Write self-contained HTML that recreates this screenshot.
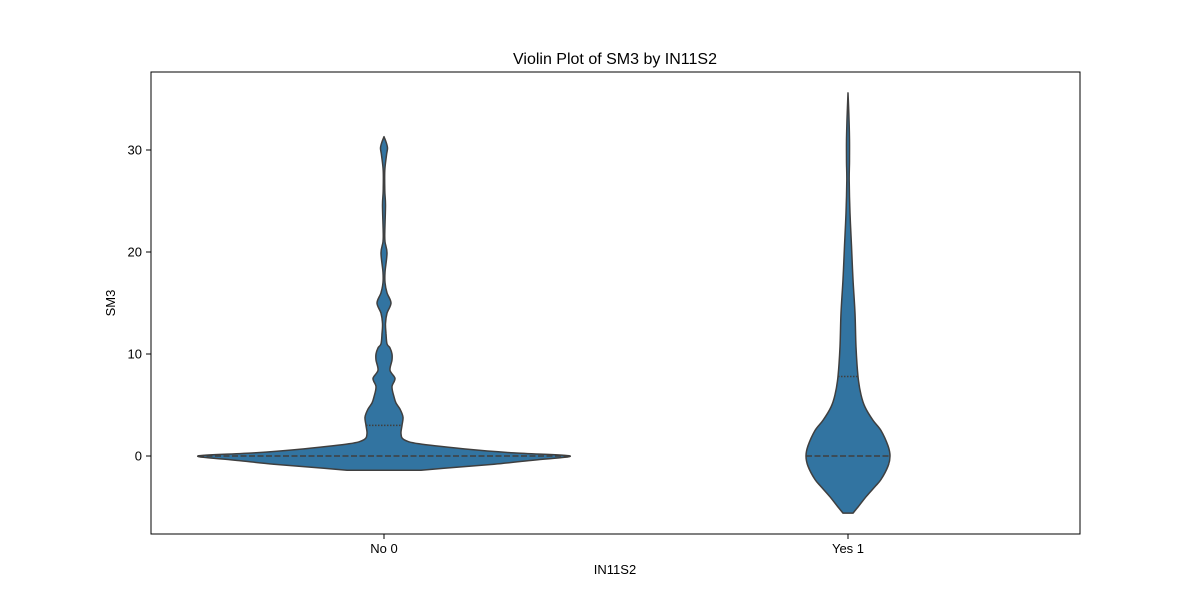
<!DOCTYPE html>
<html><head><meta charset="utf-8"><style>
body{margin:0;background:#fff;font-family:"Liberation Sans","DejaVu Sans",sans-serif}
svg text{font-family:"Liberation Sans","DejaVu Sans",sans-serif;fill:#000}
</style></head><body>
<svg id="chart" width="1200" height="600" viewBox="0 0 1200 600">
<rect x="0" y="0" width="1200" height="600" fill="#fff"/>
<g id="plot"></g>
<rect x="151" y="72" width="929" height="462" fill="none" stroke="#000" stroke-width="1"/>
<text x="615" y="64" text-anchor="middle" font-size="16">Violin Plot of SM3 by IN11S2</text>
<text x="615" y="574" text-anchor="middle" font-size="13">IN11S2</text>
<text x="115" y="303" text-anchor="middle" font-size="13" transform="rotate(-90 115 303)">SM3</text>
<g id="axes"></g>
</svg>
<script>
const categories = ["No 0", "Yes 1"];
const yTicks = [0, 10, 20, 30];
const noValues = [-1.4,-1.2,-0.8,-0.4,0,0.3,0.7,1.2,1.6,2.2,3,3.8,4.6,5.2,5.8,6.8,7.6,8.4,9.4,10,10.6,11,12,13,14,15,16,17,18,19.9,21,22,24.6,26,28,29.5,30.2,30.8,31.3];
const noWidths = [37,60,110,150,186,130,80,35,20,17,18,19,16,12,10,8,11,6,8,8,6,3,2,1.5,3,7,3,1,1,3,1,0.8,1.5,0.8,0.8,2.5,3.5,2,0];
const yesValues = [-5.6,-5,-4,-3,-2.3,-1,0,1,2.5,3.5,4.8,6,7.8,10.7,14,17.3,20.6,23.8,27,29,31,33,35.6];
const yesWidths = [5,10,18,27,33,40,42,40,33,25,17,13,10,8,7,5,3.5,2,1.2,1.5,1.5,1,0];
const yesMedian = 0, yesQ3 = 7.8, noMedian = 0, noQ3 = 3;

const NS = "http://www.w3.org/2000/svg";
const yScale = v => 456 - v * 10.2;
const xScale = i => 384 + i * 464;
const plot = document.getElementById('plot');
const axes = document.getElementById('axes');

function mk(tag, attrs, parent){const e=document.createElementNS(NS,tag);for(const k in attrs)e.setAttribute(k,attrs[k]);parent.appendChild(e);return e;}

function halfAt(vals, widths, v){
  for(let i=0;i<vals.length-1;i++){if(v>=vals[i]&&v<=vals[i+1]){const t=(v-vals[i])/(vals[i+1]-vals[i]);return widths[i]+(widths[i+1]-widths[i])*t;}}
  return 0;
}
function smoothSeg(pts){
  let d="";
  for(let i=0;i<pts.length-1;i++){
    const p0=pts[Math.max(0,i-1)],p1=pts[i],p2=pts[i+1],p3=pts[Math.min(pts.length-1,i+2)];
    const c1=[p1[0]+(p2[0]-p0[0])/6,p1[1]+(p2[1]-p0[1])/6];
    const c2=[p2[0]-(p3[0]-p1[0])/6,p2[1]-(p3[1]-p1[1])/6];
    d+="C"+c1[0].toFixed(1)+","+c1[1].toFixed(1)+" "+c2[0].toFixed(1)+","+c2[1].toFixed(1)+" "+p2[0].toFixed(1)+","+p2[1].toFixed(1);
  }
  return d;
}
function violin(i, vals, widths, med, q3, name){
  const cx = xScale(i);
  const right = vals.map((v,k)=>[cx+widths[k], yScale(v)]);
  const left = vals.map((v,k)=>[cx-widths[k], yScale(v)]).reverse();
  const d = "M"+right[0][0]+","+right[0][1]+smoothSeg(right)+"L"+left[0][0]+","+left[0][1]+smoothSeg(left)+"Z";
  const p = mk('path',{d:d,fill:'#3274a1',stroke:'#3f3f3f','stroke-width':1.5,'stroke-linejoin':'round'},plot);
  
  
  const hm = halfAt(vals,widths,med);
  const l1 = mk('line',{x1:cx-hm,x2:cx+hm,y1:yScale(med),y2:yScale(med),stroke:'#3f3f3f','stroke-width':1.5,'stroke-dasharray':'6 2.5'},plot);
  
  
  const hq = halfAt(vals,widths,q3);
  const l2 = mk('line',{x1:cx-hq,x2:cx+hq,y1:yScale(q3),y2:yScale(q3),stroke:'#3f3f3f','stroke-width':1.5,'stroke-dasharray':'1.5 1.5'},plot);
  
  
}
violin(0, noValues, noWidths, noMedian, noQ3, 'violin-no');
violin(1, yesValues, yesWidths, yesMedian, yesQ3, 'violin-yes');

yTicks.forEach(t=>{
  const y=yScale(t);
  const tk=mk('line',{x1:146,x2:151,y1:y,y2:y,stroke:'#000'},axes);
  
  
  const tx=mk('text',{x:142,y:y+4.5,'text-anchor':'end','font-size':13},axes);
  tx.textContent=t;
  
  
});
categories.forEach((c,i)=>{
  const x=xScale(i);
  const tk=mk('line',{x1:x,x2:x,y1:534,y2:539,stroke:'#000'},axes);
  
  
  const tx=mk('text',{x:x,y:553,'text-anchor':'middle','font-size':13},axes);
  tx.textContent=c;
  
  
});
</script>
</body></html>
